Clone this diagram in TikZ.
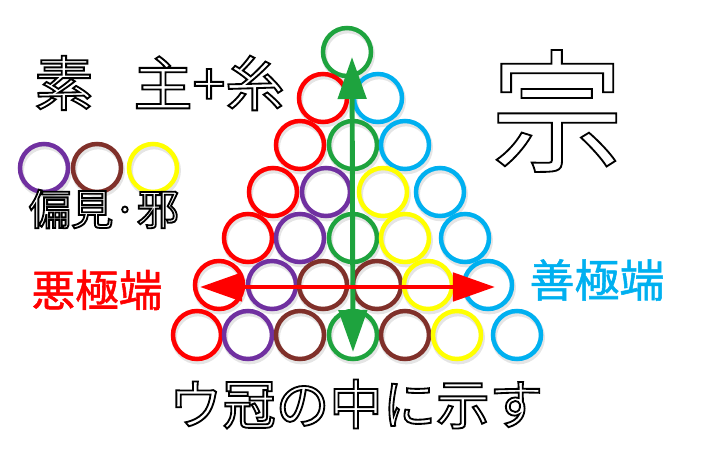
\documentclass[tikz,border=0pt]{standalone}
\usepackage{fontspec}
\usepackage{tikz}
\usetikzlibrary{arrows.meta}
\newfontfamily\jpfont{Noto Sans CJK JP}
\newfontfamily\jpsemi{Noto Sans CJK JP}[FakeBold=1.2]
\definecolor{ringRed}{RGB}{255,0,0}
\definecolor{ringBlue}{RGB}{0,176,240}
\definecolor{ringGreen}{RGB}{30,163,62}
\definecolor{ringPurple}{RGB}{112,48,160}
\definecolor{ringBrown}{RGB}{128,48,42}
\definecolor{ringYellow}{RGB}{255,255,0}
\newcommand{\outlined}[1]{\special{pdf:literal direct 0 G 2 Tr 1.3 w}#1\special{pdf:literal direct 0 Tr}}

\begin{document}
\begin{tikzpicture}[
  x=0.025cm, y=-0.025cm,
  every node/.style={font=\jpfont},
  ring/.style n args={1}{circle, draw=#1, line width=3.2pt, minimum size=1.2cm, inner sep=0pt,
    preaction={draw=black!10, line width=4pt, transform canvas={shift={(0.8pt,-1.8pt)}}}},
  whitetext/.style n args={1}{text=white, inner sep=0pt, font=\jpfont\fontsize{#1}{#1}\selectfont},
  endtext/.style n args={2}{text=#1, inner sep=0pt, font=\jpsemi\fontsize{#2}{#2}\selectfont},
  arrowline/.style n args={1}{line width=3.5pt, color=#1,
    {Triangle[length=1.05cm, width=0.7cm]}-{Triangle[length=1.05cm, width=0.7cm]}},
]
\useasboundingbox (0,0) rectangle (703,464);
% ROW 1
\node[ring={ringGreen}] (c1a) at (347, 52) {};
% ROW 2
\node[ring={ringRed}]  (c2a) at (323, 98) {};
\node[ring={ringBlue}] (c2b) at (378, 98) {};
% ROW 3
\node[ring={ringRed}]   (c3a) at (300, 145) {};
\node[ring={ringGreen}] (c3b) at (353, 145) {};
\node[ring={ringBlue}]  (c3c) at (405, 145) {};
% ROW 4
\node[ring={ringRed}]    (c4a) at (273, 192) {};
\node[ring={ringPurple}] (c4b) at (326, 192) {};
\node[ring={ringYellow}] (c4c) at (383, 192) {};
\node[ring={ringBlue}]   (c4d) at (440, 192) {};
% ROW 5
\node[ring={ringRed}]    (c5a) at (248, 238) {};
\node[ring={ringPurple}] (c5b) at (300, 238) {};
\node[ring={ringGreen}]  (c5c) at (353, 238) {};
\node[ring={ringYellow}] (c5d) at (405, 238) {};
\node[ring={ringBlue}]   (c5e) at (465, 238) {};
% ROW 6
\node[ring={ringRed}]    (c6a) at (219, 285) {};
\node[ring={ringPurple}] (c6b) at (272, 285) {};
\node[ring={ringBrown}]  (c6c) at (323, 285) {};
\node[ring={ringBrown}]  (c6d) at (377, 285) {};
\node[ring={ringYellow}] (c6e) at (428, 285) {};
\node[ring={ringBlue}]   (c6f) at (488, 285) {};
% ROW 7
\node[ring={ringRed}]    (c7a) at (197, 335) {};
\node[ring={ringPurple}] (c7b) at (248, 335) {};
\node[ring={ringBrown}]  (c7c) at (300, 335) {};
\node[ring={ringGreen}]  (c7d) at (353, 335) {};
\node[ring={ringBrown}]  (c7e) at (405, 335) {};
\node[ring={ringYellow}] (c7f) at (457, 335) {};
\node[ring={ringBlue}]   (c7g) at (517, 335) {};
% ARROWS
\coordinate (gtop) at (352, 57);
\coordinate (gbot) at (353, 352);
\coordinate (rleft) at (200, 287);
\coordinate (rright) at (495, 287);
\draw[arrowline={ringGreen}] (gtop) -- (gbot);
\draw[arrowline={ringRed}] (rleft) -- (rright);
% LEGEND
\node[ring={ringPurple}] (l1) at (44, 168) {};
\node[ring={ringBrown}]  (l2) at (97, 168) {};
\node[ring={ringYellow}] (l3) at (153, 168) {};
\node[whitetext={30pt}] (bias) at (104, 209) {\outlined{偏見·邪}};
% TEXTS
\node[whitetext={42pt}] (su) at (64, 83) {\outlined{素}};
\node[whitetext={42pt}] (shu) at (209, 83) {\outlined{主+糸}};
\node[whitetext={94pt}] (shuu) at (557, 111) {\outlined{宗}};
\node[endtext={ringRed}{31pt}] (aku) at (97, 290) {悪極端};
\node[endtext={ringBlue}{32pt}] (zen) at (597, 280) {善極端};
\node[whitetext={38pt}] (cap) at (356, 404) {\outlined{ウ冠の中に示す}};
\end{tikzpicture}
\end{document}
